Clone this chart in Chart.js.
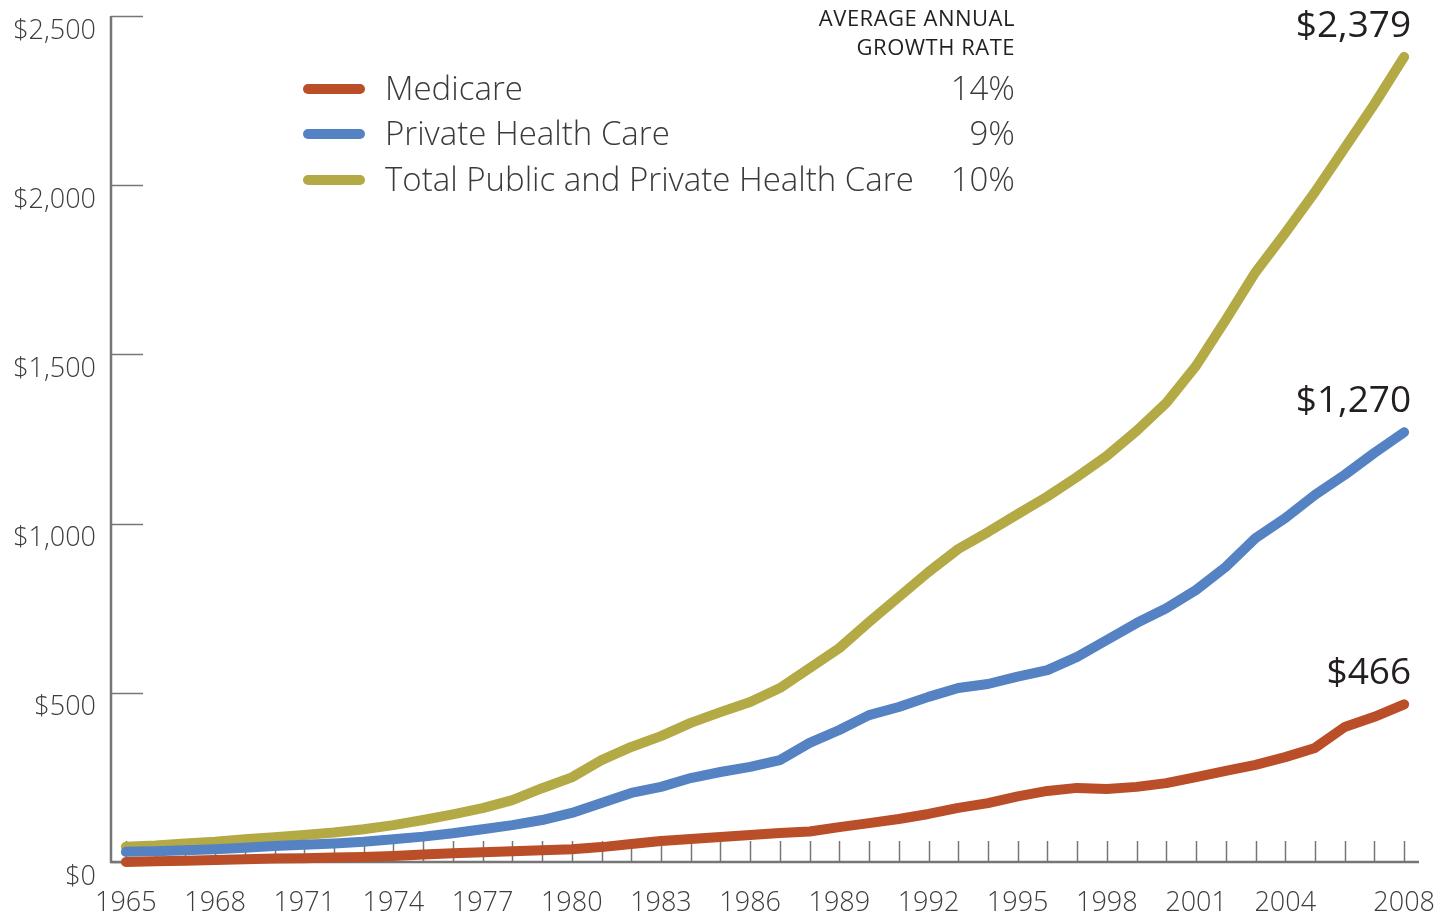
<!DOCTYPE html>
<html>
<head>
<meta charset="utf-8">
<title>Health care spending, 1965-2008</title>
<script src="https://cdn.jsdelivr.net/npm/chart.js@4.4.1/dist/chart.umd.min.js"></script>
<style>
  html, body { margin: 0; padding: 0; background: #fff; }
  #wrap { position: relative; width: 1439px; height: 916px; }
</style>
</head>
<body>
<div id="wrap"><canvas id="spending-chart" width="1439" height="916"></canvas></div>
<script>
var years = [1965, 1966, 1967, 1968, 1969, 1970, 1971, 1972, 1973, 1974, 1975, 1976, 1977, 1978, 1979,
             1980, 1981, 1982, 1983, 1984, 1985, 1986, 1987, 1988, 1989, 1990, 1991, 1992, 1993, 1994,
             1995, 1996, 1997, 1998, 1999, 2000, 2001, 2002, 2003, 2004, 2005, 2006, 2007, 2008];
var yearLabels = [1965, 1968, 1971, 1974, 1977, 1980, 1983, 1986, 1989, 1992, 1995, 1998, 2001, 2004, 2008];

// billions of dollars
var medicare = [0, 2, 4, 6, 8, 10, 11, 13, 15, 18, 22, 26, 29, 32, 35,
                38, 44, 53, 62, 68, 74, 80, 86, 90, 103, 115, 127, 142, 160, 174,
                194, 210, 219, 216, 222, 233, 251, 269, 287, 310, 337, 399, 429, 466];
var privateCare = [30, 32, 35, 38, 42, 47, 51, 55, 60, 67, 75, 85, 97, 109, 124,
                   145, 174, 204, 222, 248, 266, 281, 301, 352, 390, 434, 458, 488, 514, 526,
                   548, 567, 606, 656, 706, 750, 804, 872, 957, 1016, 1085, 1144, 1209, 1270];
var totalCare = [45, 49, 55, 60, 67, 73, 80, 87, 97, 109, 124, 141, 159, 183, 218,
                 250, 301, 340, 372, 411, 443, 473, 514, 573, 632, 709, 783, 857, 925, 975,
                 1028, 1080, 1138, 1200, 1274, 1357, 1466, 1602, 1743, 1859, 1980, 2110, 2240, 2379];

var seriesNames = ['Medicare', 'Private Health Care', 'Total Public and Private Health Care'];
var growthRates = ['14%', '9%', '10%'];
var endLabels = ['$466', '$1,270', '$2,379'];
var yTicks = [0, 500, 1000, 1500, 2000, 2500];

var colors = ['#b94e28', '#5482c3', '#b3aa45'];
var fontFamily = "'Open Sans', 'Noto Sans', sans-serif";

// axis lines plus the short inside tick marks
var axisMarks = {
    id: 'axisMarks',
    beforeDatasetsDraw: function(chart) {
        var ctx = chart.ctx, area = chart.chartArea;
        var xs = chart.scales.x, ys = chart.scales.y;
        ctx.save();
        ctx.strokeStyle = '#767676';
        ctx.lineWidth = 1.5;
        years.forEach(function(yr, i) {
            var px = Math.round(xs.getPixelForValue(i)) + 0.5;
            ctx.beginPath();
            ctx.moveTo(px, area.bottom);
            ctx.lineTo(px, area.bottom - 21);
            ctx.stroke();
        });
        yTicks.forEach(function(v) {
            var py = Math.round(ys.getPixelForValue(v)) + 0.5;
            ctx.beginPath();
            ctx.moveTo(area.left, py);
            ctx.lineTo(area.left + 32, py);
            ctx.stroke();
        });
        ctx.lineWidth = 2.5;
        ctx.beginPath();
        ctx.moveTo(area.left, area.top);
        ctx.lineTo(area.left, area.bottom);
        ctx.lineTo(area.right, area.bottom);
        ctx.stroke();
        ctx.restore();
    }
};

// value labels above the last point of each line
var endValues = {
    id: 'endValues',
    afterDatasetsDraw: function(chart) {
        var ctx = chart.ctx;
        ctx.save();
        ctx.font = '400 37px ' + fontFamily;
        ctx.fillStyle = '#231f20';
        ctx.textAlign = 'right';
        ctx.textBaseline = 'alphabetic';
        chart.data.datasets.forEach(function(ds, i) {
            var pts = chart.getDatasetMeta(i).data;
            var p = pts[pts.length - 1];
            ctx.fillText(endLabels[i], p.x + 7, p.y - 20);
        });
        ctx.restore();
    }
};

// legend with growth rate column
var growthLegend = {
    id: 'growthLegend',
    afterDraw: function(chart) {
        var ctx = chart.ctx;
        var rowY = [91, 136, 182];
        ctx.save();
        ctx.fillStyle = '#231f20';
        ctx.textAlign = 'right';
        ctx.textBaseline = 'middle';
        ctx.font = '500 22px ' + fontFamily;
        ctx.letterSpacing = '0.5px';
        ctx.fillText('AVERAGE ANNUAL', 1015, 20);
        ctx.fillText('GROWTH RATE', 1015, 49);
        ctx.letterSpacing = '0px';
        chart.data.datasets.forEach(function(ds, i) {
            ctx.strokeStyle = ds.borderColor;
            ctx.lineWidth = 10;
            ctx.lineCap = 'round';
            ctx.beginPath();
            ctx.moveTo(308, rowY[i] - 2);
            ctx.lineTo(360, rowY[i] - 2);
            ctx.stroke();
            ctx.fillStyle = '#3a3a3a';
            ctx.font = '300 33px ' + fontFamily;
            ctx.textAlign = 'left';
            ctx.fillText(ds.label, 385, rowY[i]);
            ctx.textAlign = 'right';
            ctx.fillText(growthRates[i], 1015, rowY[i]);
        });
        ctx.restore();
    }
};

var ctx = document.getElementById('spending-chart').getContext('2d');
var spendingChart = new Chart(ctx, {
    type: 'line',
    data: {
        labels: years,
        datasets: [
            { label: seriesNames[0], data: medicare, borderColor: colors[0] },
            { label: seriesNames[1], data: privateCare, borderColor: colors[1] },
            { label: seriesNames[2], data: totalCare, borderColor: colors[2] }
        ]
    },
    options: {
        responsive: false,
        animation: false,
        layout: { autoPadding: false, padding: { top: 16, right: 20, bottom: 0, left: 0 } },
        elements: {
            line: { borderWidth: 10, borderCapStyle: 'round', borderJoinStyle: 'round', tension: 0, fill: false },
            point: { radius: 0, hoverRadius: 0 }
        },
        datasets: { line: { clip: false } },
        plugins: {
            legend: { display: false },
            tooltip: { enabled: false }
        },
        scales: {
            x: {
                type: 'category',
                offset: true,
                grid: { display: false, drawTicks: false },
                border: { display: false },
                afterFit: function(scale) {
                    scale.height = 54;
                    scale.paddingLeft = 0;
                    scale.paddingRight = 0;
                },
                ticks: {
                    autoSkip: false,
                    maxRotation: 0,
                    padding: 25,
                    color: '#3d3d3d',
                    font: { family: fontFamily, size: 27, weight: '300' },
                    callback: function(value) {
                        var yr = Number(this.getLabelForValue(value));
                        return yearLabels.indexOf(yr) >= 0 ? String(yr) : '';
                    }
                }
            },
            y: {
                min: 0,
                max: 2500,
                grid: { display: false, drawTicks: false },
                border: { display: false },
                afterFit: function(scale) {
                    scale.width = 111;
                    scale.paddingTop = 0;
                    scale.paddingBottom = 0;
                },
                afterBuildTicks: function(scale) {
                    scale.ticks = yTicks.map(function(v) { return { value: v }; });
                },
                ticks: {
                    padding: 15,
                    labelOffset: 15,
                    color: '#3d3d3d',
                    font: { family: fontFamily, size: 27, weight: '300' },
                    callback: function(value) { return '$' + value.toLocaleString('en-US'); }
                }
            }
        }
    },
    plugins: [axisMarks, endValues, growthLegend]
});
</script>
</body>
</html>
